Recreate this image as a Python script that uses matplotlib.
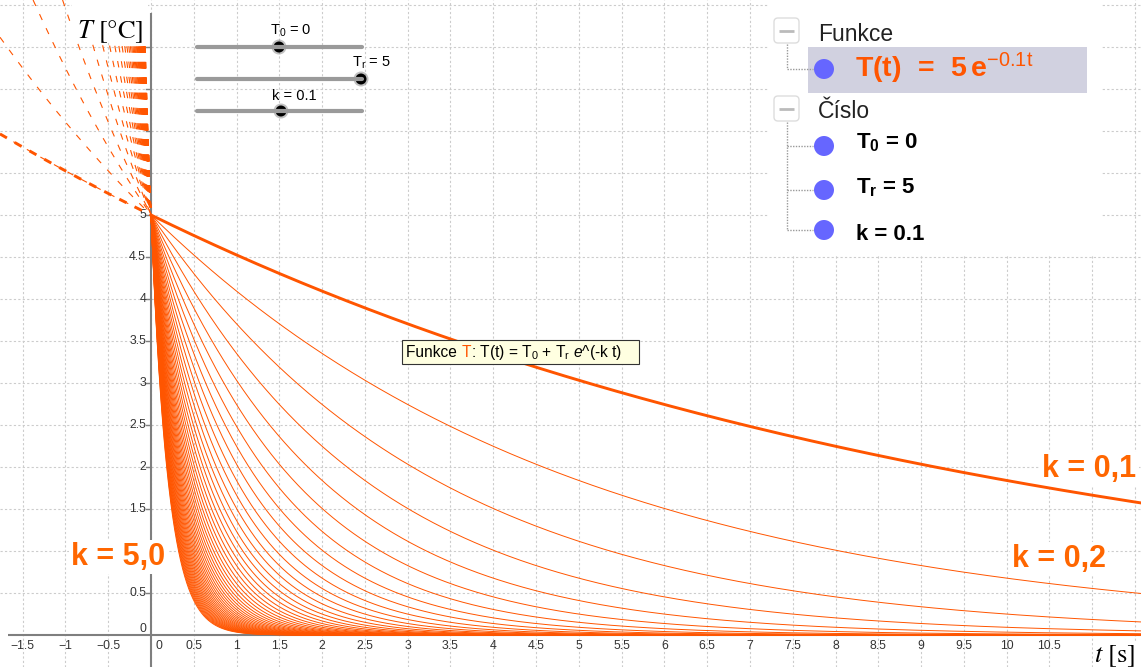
import numpy as np
import matplotlib
matplotlib.use("Agg")
import matplotlib.pyplot as plt
from matplotlib.patches import Rectangle, Circle, FancyBboxPatch

# ---------------- data ----------------
T0 = 0          # T_0 slider value
Tr = 5          # T_r slider value
k_current = 0.1 # current k (highlighted curve)
k_values = [0.1, 0.2, 0.3, 0.4, 0.5, 0.6, 0.7, 0.8, 0.9, 1.0,
            1.1, 1.2, 1.3, 1.4, 1.5, 1.6, 1.7, 1.8, 1.9, 2.0,
            2.1, 2.2, 2.3, 2.4, 2.5, 2.6, 2.7, 2.8, 2.9, 3.0,
            3.1, 3.2, 3.3, 3.4, 3.5, 3.6, 3.7, 3.8, 3.9, 4.0,
            4.1, 4.2, 4.3, 4.4, 4.5, 4.6, 4.7, 4.8, 4.9, 5.0]
x_ticks = [-1.5, -1, -0.5, 0, 0.5, 1, 1.5, 2, 2.5, 3, 3.5, 4, 4.5, 5, 5.5,
           6, 6.5, 7, 7.5, 8, 8.5, 9, 9.5, 10, 10.5]
x_tick_labels = ["\u22121.5", "\u22121", "\u22120.5", "0", "0.5", "1", "1.5", "2",
                 "2.5", "3", "3.5", "4", "4.5", "5", "5.5", "6", "6.5", "7",
                 "7.5", "8", "8.5", "9", "9.5", "10", "10.5"]
y_ticks = [0, 0.5, 1.5, 2, 2.5, 3, 3.5, 4, 4.5, 5]
y_tick_labels = ["0", "0.5", "1.5", "2", "2.5", "3", "3.5", "4", "4.5", "5"]

# ---------------- style ----------------
W, H = 1141, 667
PX0, PXU = 151.0, 85.57   # pixel of x=0, pixels per unit
PY0, PYU = 635.0, 84.0    # pixel of y=0, pixels per unit
xmin, xmax = -PX0 / PXU, (W - PX0) / PXU
ymax, ymin = PY0 / PYU, (PY0 - H) / PYU

CURVE = "#FF5500"
KTXT = "#FF6600"
GRID = "#CCCCCC"
AXIS = "#7F7F7F"

plt.rcParams["font.family"] = ["Liberation Sans", "DejaVu Sans"]
plt.rcParams["mathtext.fontset"] = "custom"
plt.rcParams["mathtext.rm"] = "Liberation Sans"
plt.rcParams["mathtext.it"] = "Liberation Sans:italic"
plt.rcParams["mathtext.bf"] = "Liberation Sans:bold"
plt.rcParams["lines.scale_dashes"] = False

PT = 0.72  # points per pixel at dpi 100

fig = plt.figure(figsize=(W / 100, H / 100), dpi=100)
fig.patch.set_facecolor("white")
ax = fig.add_axes([0, 0, 1, 1])
ax.set_xlim(xmin, xmax)
ax.set_ylim(ymin, ymax)
ax.axis("off")

# overlay axes in pixel coordinates (drawn on top)
ov = fig.add_axes([0, 0, 1, 1], zorder=5)
ov.set_xlim(0, W)
ov.set_ylim(H, 0)
ov.axis("off")
ov.patch.set_visible(False)

# grid (dotted)
for gx in np.arange(-1.5, xmax, 0.5):
    ax.axvline(gx, color=GRID, lw=0.8, ls=(0, (1.6, 1.6)), zorder=0)
for gy in np.arange(0.5, ymax, 0.5):
    ax.axhline(gy, color=GRID, lw=0.8, ls=(0, (1.6, 1.6)), zorder=0)

# axes
ax.plot([xmin + 8 / PXU, xmax], [0, 0], color=AXIS, lw=1.5, zorder=2,
        solid_capstyle="butt")
ax.plot([0, 0], [ymin, ymax - 13 / PYU], color=AXIS, lw=1.5, zorder=2,
        solid_capstyle="butt")
for gy in np.arange(0.5, ymax - 0.2, 0.5):
    ax.plot([-5 / PXU, 0], [gy, gy], color=AXIS, lw=1.0, zorder=2)

# tick labels
for xv, lab in zip(x_ticks, x_tick_labels):
    if xv == 0:
        ax.annotate(lab, xy=(xv, 0), xytext=(4 * PT, -11 * PT),
                    textcoords="offset points", ha="left", va="center",
                    fontsize=8.8, color="#333333", zorder=3)
    else:
        ax.annotate(lab, xy=(xv, 0), xytext=(0, -11 * PT),
                    textcoords="offset points", ha="center", va="center",
                    fontsize=8.8, color="#333333", zorder=3)
for yv, lab in zip(y_ticks, y_tick_labels):
    dy = 6 * PT if yv == 0 else 0
    ax.annotate(lab, xy=(0, yv), xytext=(-5 * PT, dy),
                textcoords="offset points", ha="right", va="center",
                fontsize=8.8, color="#333333", zorder=3)

# k labels (white background hides grid/axis, curves drawn over them)
for txt, x, y in [("k = 5,0", 71, 565), ("k = 0,1", 1042, 477), ("k = 0,2", 1012, 567)]:
    ax.text(x, y, txt, transform=ov.transData, fontsize=22, fontweight="bold",
            color=KTXT, ha="left", va="baseline", zorder=3,
            bbox=dict(boxstyle="square,pad=0.08", fc="white", ec="none"))

# curves: T(t) = T0 + Tr e^(-k t)
t_pos = np.concatenate([np.linspace(0, 1.5, 1500), np.linspace(1.5, xmax, 500)])
for k in k_values:
    ax.plot(t_pos, T0 + Tr * np.exp(-k * t_pos), color=CURVE, lw=0.7,
            zorder=4, solid_capstyle="butt")
    t_start = max(xmin, -np.log((ymax - T0) / Tr) / k)
    t_neg = np.linspace(t_start, 0, 400)
    ax.plot(t_neg, T0 + Tr * np.exp(-k * t_neg), color=CURVE, lw=0.8,
            ls=(0, (6.5 * PT, 9 * PT)), zorder=4)
# current curve (thick)
ax.plot(t_pos, T0 + Tr * np.exp(-k_current * t_pos), color=CURVE, lw=2.1, zorder=5)
t_neg = np.linspace(xmin, 0, 400)
ax.plot(t_neg, T0 + Tr * np.exp(-k_current * t_neg), color=CURVE, lw=2.1,
        ls=(0, (8 * PT, 9 * PT)), zorder=5)

# axis labels
ov.add_patch(Rectangle((72, 0), 76, 43, fc="white", ec="none"))
ov.text(77, 38, r"$T\ [\mathrm{°C}]$", math_fontfamily="stix", fontsize=19,
        ha="left", va="baseline", color="black")
ov.text(1094, 662, r"$t\ [\mathrm{s}]$", math_fontfamily="stix", fontsize=19,
        ha="left", va="baseline", color="black",
        bbox=dict(boxstyle="square,pad=0.05", fc="white", ec="none"))

# sliders
for y, kx, lab, lx, ly in [(47, 279, r"T$_0$ = 0", 270, 35),
                           (79, 361, r"T$_\mathrm{r}$ = 5", 352, 67),
                           (111, 281, "k = 0.1", 272, 100)]:
    ov.plot([197, 362], [y, y], color="#9A9A9A", lw=3.0, solid_capstyle="round")
    ov.add_patch(Circle((kx, y), 7.5, fc="#777777", ec="none", alpha=0.45))
    ov.add_patch(Circle((kx, y), 5.5, fc="black", ec="none"))
    ov.text(lx, ly, lab, fontsize=10.5, color="black", ha="left", va="baseline")

# algebra panel
ov.add_patch(Rectangle((768, 0), 334, 256, fc="white", ec="none"))
ov.add_patch(Rectangle((808, 47), 279, 46, fc="#D1D1E0", ec="none"))
for by in (18, 96):
    ov.add_patch(FancyBboxPatch((774, by), 25, 25, boxstyle="round,pad=0,rounding_size=4",
                                fc="white", ec="#DDDDDD", lw=1.0))
    ov.plot([779, 794], [by + 12.5, by + 12.5], color="#BBBBBB", lw=2.0,
            solid_capstyle="butt")
ov.plot([787, 787, 813], [44, 69, 69], color="#999999", lw=1.0, ls=(0, (1, 1)))
ov.plot([787, 787], [122, 230], color="#999999", lw=1.0, ls=(0, (1, 1)))
for yy in (146, 190, 230):
    ov.plot([787, 813], [yy, yy], color="#999999", lw=1.0, ls=(0, (1, 1)))
for yy in (69, 146, 190, 230):
    ov.add_patch(Circle((824, yy), 10, fc="#6666FF", ec="none"))

ov.text(818, 41, "Funkce", fontsize=16.5, color="#222222", ha="left", va="baseline")
ov.text(818, 118, "\u010c\u00edslo", fontsize=16.5, color="#222222", ha="left", va="baseline")
ov.text(855, 77, r"$\mathbf{T(t)}\ \,\mathbf{=}\ \,\mathbf{5}\,\mathbf{e}^{-0.1\mathrm{t}}$",
        fontsize=20.5, color="#FF5500", ha="left", va="baseline")
ov.text(856, 148, r"T$_\mathbf{0}$ = 0", fontsize=16, fontweight="bold", color="black",
        ha="left", va="baseline")
ov.text(856, 193, r"T$_\mathbf{r}$ = 5", fontsize=16, fontweight="bold", color="black",
        ha="left", va="baseline")
ov.text(856, 240, "k = 0.1", fontsize=16, fontweight="bold", color="black",
        ha="left", va="baseline")

# tooltip
ov.add_patch(Rectangle((402, 340), 237, 24, fc="#FFFFE1", ec="#333333", lw=0.8, zorder=6))
renderer = fig.canvas.get_renderer()
x = 406
for piece, col in [("Funkce ", "black"), ("T", "#FF5500"),
                   (r": T(t) = T$_0$ + T$_\mathrm{r}$ $\mathit{e}$^(-k t)", "black")]:
    t = ov.text(x, 357, piece, fontsize=11.2, color=col, ha="left", va="baseline", zorder=7)
    bb = t.get_window_extent(renderer=renderer)
    x = bb.x1

fig.savefig("out.png", dpi=100)
